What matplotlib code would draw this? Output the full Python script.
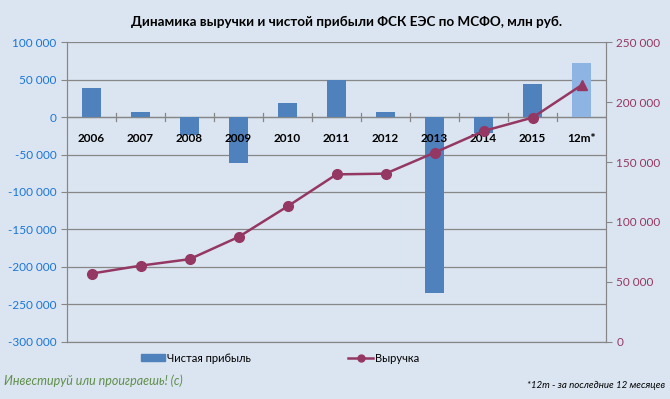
import numpy as np
import matplotlib
matplotlib.use("Agg")
import matplotlib.pyplot as plt
from matplotlib.ticker import FuncFormatter
from matplotlib.patches import Patch
from matplotlib.lines import Line2D

plt.rcParams['font.family'] = ['Lato', 'DejaVu Sans']

# Данные (млн руб.)
periods = ["2006", "2007", "2008", "2009", "2010", "2011", "2012", "2013", "2014", "2015", "12m*"]
net_profit = [39000, 7000, -24000, -61000, 19000, 50000, 7000, -235000, -21000, 44000, 72000]
revenue = [57000, 63600, 69000, 87500, 113000, 139700, 140300, 157800, 175800, 187000, 214000]

bg = "#dbe5f1"
bar_col = "#4f81bd"
bar_last = "#8eb4e3"
line_col = "#953763"
grid_col = "#878787"

def fmt(v, pos):
    return f"{int(v):,}".replace(",", " ")

fig = plt.figure(figsize=(6.7, 3.99), dpi=100, facecolor=bg)
ax = fig.add_axes([0.1, 0.1429, 0.8045, 0.7518], facecolor=bg)
x = np.arange(len(periods))

colors = [bar_col] * (len(periods) - 1) + [bar_last]
ax.bar(x, net_profit, width=0.39, color=colors, zorder=2)
ax.set_ylim(-300000, 100000)
ax.set_xlim(-0.5, len(periods) - 0.5)
ax.set_yticks(np.arange(-300000, 100001, 50000))
ax.yaxis.set_major_formatter(FuncFormatter(fmt))
ax.tick_params(axis='y', colors=grid_col, labelcolor="#1a75d8", labelsize=8.5, length=4)
ax.set_xticks([])
ax.grid(axis='y', color=grid_col, linewidth=0.9, zorder=0)
for s in ax.spines.values():
    s.set_color(grid_col)
ax.spines['top'].set_visible(False)

# нулевая линия с засечками и подписи категорий
ax.axhline(0, color=grid_col, linewidth=0.9, zorder=1)
for b in np.arange(0.5, len(periods) - 1, 1):
    ax.plot([b, b], [5300, -5300], color=grid_col, linewidth=0.9, zorder=1)
for i, p in enumerate(periods):
    ax.text(i, -28500, p, ha='center', va='center', fontsize=8.5, fontweight='bold', zorder=4)

ax2 = ax.twinx()
ax2.set_ylim(0, 250000)
ax2.set_yticks(np.arange(0, 250001, 50000))
ax2.yaxis.set_major_formatter(FuncFormatter(fmt))
ax2.tick_params(axis='y', colors=grid_col, labelcolor=line_col, labelsize=8.5, length=4)
for s in ax2.spines.values():
    s.set_color(grid_col)
ax2.spines['top'].set_visible(False)
ax2.plot(x[:-1], revenue[:-1], color=line_col, linewidth=1.8, marker='o', markersize=7, zorder=3)
ax2.plot(x[-2:], revenue[-2:], color=line_col, linewidth=1.8, zorder=3)
ax2.plot(x[-1:], revenue[-1:], color=line_col, marker='^', markersize=7, linestyle='none', zorder=3)

fig.text(0.518, 0.945, "Динамика выручки и чистой прибыли ФСК ЕЭС по МСФО, млн руб.",
         ha='center', va='center', fontsize=9.7, fontweight='bold')

fig.legend(handles=[Patch(color=bar_col)], labels=["Чистая прибыль"], loc='center left',
           bbox_to_anchor=(0.195, 0.102), frameon=False, fontsize=8, handlelength=2.2,
           handleheight=0.6, handletextpad=0.2)
fig.legend(handles=[Line2D([], [], color=line_col, marker='o', markersize=5, linewidth=1.8)],
           labels=["Выручка"], loc='center left', bbox_to_anchor=(0.505, 0.102), frameon=False,
           fontsize=8, handlelength=2.2, handletextpad=0.2)

fig.text(0.006, 0.045, "Инвестируй или проиграешь! (с)", color="#5f8f4a", fontsize=9,
         style='italic', ha='left', va='center')
fig.text(0.993, 0.035, "*12m - за последние 12 месяцев", fontsize=7, style='italic',
         ha='right', va='center')

fig.savefig("out.png", dpi=100, facecolor=bg)
